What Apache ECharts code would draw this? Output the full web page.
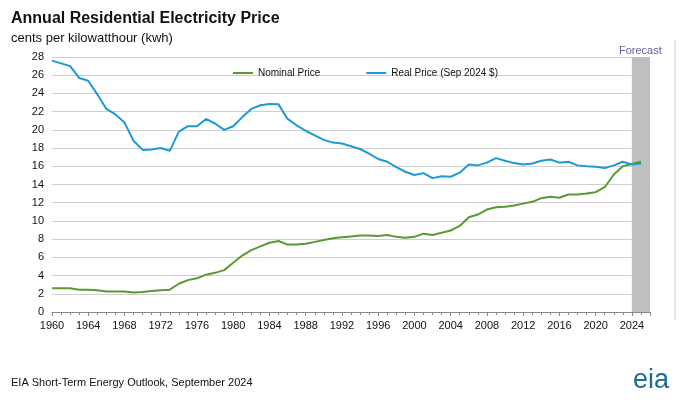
<!DOCTYPE html>
<html><head><meta charset="utf-8">
<script src="https://cdn.jsdelivr.net/npm/echarts@6/dist/echarts.min.js"></script>
<style>html,body{margin:0;padding:0;background:#fff}#c{width:680px;height:400px}</style>
</head><body><div id="c"></div>
<script>
const years = [];
for (let y = 1960; y <= 2025; y++) years.push(y);
const realPrice = [27.6,27.3,27.0,25.7,25.4,23.9,22.3,21.7,20.8,18.8,17.8,17.85,18.0,17.7,19.8,20.4,20.4,21.2,20.7,20.0,20.4,21.4,22.3,22.7,22.85,22.8,21.2,20.5,19.9,19.4,18.9,18.6,18.5,18.2,17.9,17.4,16.8,16.5,15.9,15.4,15.05,15.25,14.7,14.9,14.85,15.3,16.2,16.1,16.4,16.9,16.6,16.35,16.2,16.3,16.6,16.75,16.4,16.5,16.1,16.0,15.95,15.8,16.1,16.5,16.2,16.3];
const nominalPrice = [2.6,2.6,2.6,2.45,2.45,2.4,2.25,2.25,2.25,2.15,2.2,2.3,2.4,2.45,3.1,3.5,3.7,4.1,4.3,4.6,5.4,6.2,6.8,7.2,7.6,7.8,7.4,7.4,7.5,7.7,7.9,8.1,8.2,8.3,8.4,8.4,8.35,8.45,8.25,8.15,8.25,8.6,8.45,8.7,8.95,9.45,10.4,10.7,11.25,11.5,11.55,11.7,11.9,12.1,12.5,12.65,12.55,12.9,12.9,13.0,13.15,13.7,15.1,16.0,16.25,16.5];
const forecastStart = 2024, forecastEnd = 2026;
const zip = a => years.map((y,i)=>[y,a[i]]);
const font = 'Arial, "Liberation Sans", sans-serif';
const chart = echarts.init(document.getElementById('c'));
chart.setOption({
  animation:false,
  textStyle:{fontFamily:font},
  title:[
    {text:'Annual Residential Electricity Price',left:6,top:6,textStyle:{fontSize:16,fontWeight:'bold',color:'#111'}},
    {text:'cents per kilowatthour (kwh)',left:6,top:27,textStyle:{fontSize:13,fontWeight:'normal',color:'#111'}},
    {text:'EIA Short-Term Energy Outlook, September 2024',left:6,top:372,textStyle:{fontSize:11,fontWeight:'normal',color:'#111'}},
    {text:'Forecast',left:614,top:40,textStyle:{fontSize:11,fontWeight:'normal',color:'#6a5d9a'}},
    {text:'eia',left:628,top:362,textStyle:{fontSize:27,fontWeight:'normal',color:'#1d6a96'}}
  ],
  legend:{top:63,left:228,itemGap:46,itemWidth:20,itemHeight:2,icon:'rect',
    textStyle:{fontSize:10,color:'#111'},data:['Nominal Price','Real Price (Sep 2024 $)']},
  grid:{left:52,right:30,top:57,bottom:88},
  xAxis:{type:'value',min:1960,max:forecastEnd,interval:4,
    axisLine:{lineStyle:{color:'#888'}},
    axisTick:{show:true,length:4,lineStyle:{color:'#888'}},
    minorTick:{show:true,splitNumber:4,length:3,lineStyle:{color:'#888'}},
    axisLabel:{fontSize:11,color:'#111',showMaxLabel:false,formatter:v=>v%4===0?String(v):''},
    splitLine:{show:false}},
  yAxis:{type:'value',min:0,max:28,interval:2,
    axisLine:{show:false},axisTick:{show:false},
    axisLabel:{fontSize:11,color:'#111'},
    splitLine:{lineStyle:{color:'#cfcfcf',width:1}}},
  series:[
    {type:'line',name:'band',data:[],silent:true,z:1,
     markArea:{silent:true,itemStyle:{color:'#bfbfbf'},data:[[{xAxis:forecastStart},{xAxis:forecastEnd}]]}},
    {type:'line',name:'Nominal Price',data:zip(nominalPrice),showSymbol:false,z:3,
     lineStyle:{color:'#5a9a32',width:2},itemStyle:{color:'#5a9a32'}},
    {type:'line',name:'Real Price (Sep 2024 $)',data:zip(realPrice),showSymbol:false,z:3,
     lineStyle:{color:'#1b9ad6',width:2},itemStyle:{color:'#1b9ad6'}}
  ],
  graphic:[{type:'line',shape:{x1:675,y1:40,x2:675,y2:320},style:{stroke:'#ccc',lineWidth:1}}]
});
</script></body></html>
